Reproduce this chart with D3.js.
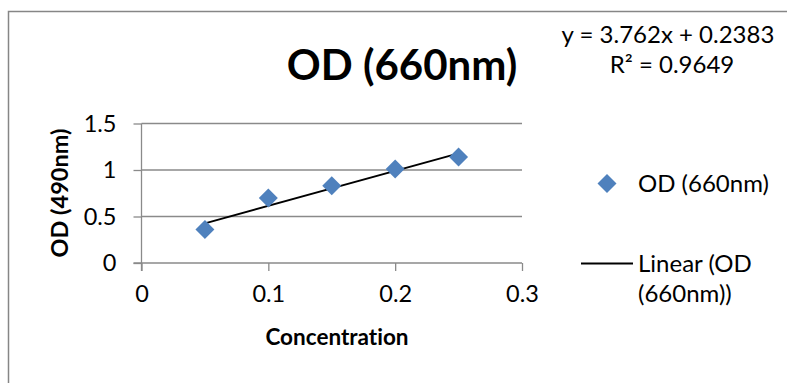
<!DOCTYPE html>
<html>
<head>
<meta charset="utf-8">
<script src="https://cdn.jsdelivr.net/npm/d3@7"></script>
<style>
  html, body { margin: 0; padding: 0; background: #fff; }
  svg { display: block; font-family: Lato, "Open Sans", sans-serif; font-variant-ligatures: none; }
</style>
</head>
<body>
<svg id="chart" width="787" height="383"></svg>
<script>
// Standard-curve readings: concentration vs. absorbance
const concentration = [0.05, 0.10, 0.15, 0.20, 0.25];
const odValues = [0.36, 0.70, 0.83, 1.01, 1.14];

// Fitted trendline (least squares) as reported on the chart
const trendSlope = 3.762;
const trendIntercept = 0.2383;
const rSquared = 0.9649;

const xTicks = [0, 0.1, 0.2, 0.3];
const yTicks = [0, 0.5, 1, 1.5];

const seriesName = "OD (660nm)";
const chartTitle = "OD (660nm)";
const xTitle = "Concentration";
const yTitle = "OD (490nm)";

const svg = d3.select("#chart");
const gridColor = "#8a8a8a";
const markerColor = "#4F81BD";

// Outer chart frame
svg.append("rect")
  .attr("x", 8.5).attr("y", 11.5)
  .attr("width", 800).attr("height", 400)
  .attr("fill", "none")
  .attr("stroke", "#868686")
  .attr("stroke-width", 1.5);

const x = d3.scaleLinear().domain([0, 0.3]).range([141.5, 522]);
const y = d3.scaleLinear().domain([0, 1.5]).range([263, 123.5]);

// Horizontal gridlines
svg.append("g")
  .selectAll("line")
  .data(yTicks.filter(t => t > 0))
  .join("line")
  .attr("x1", x(0)).attr("x2", x(0.3))
  .attr("y1", d => y(d)).attr("y2", d => y(d))
  .attr("stroke", gridColor).attr("stroke-width", 1.3);

// Y axis
const yAxis = svg.append("g")
  .attr("transform", `translate(${x(0)},0)`)
  .call(d3.axisLeft(y).tickValues(yTicks).tickSize(8).tickPadding(17)
    .tickFormat(d3.format("")));
yAxis.select(".domain").attr("stroke", gridColor).attr("stroke-width", 1.3)
  .attr("d", `M0,${y(1.5)}V${y(0) + 8}`);
yAxis.selectAll(".tick line").attr("stroke", gridColor).attr("stroke-width", 1.3);
yAxis.selectAll(".tick text")
  .attr("font-family", "Lato, sans-serif")
  .attr("font-size", 23.5).attr("fill", "#000");

// X axis
const xAxis = svg.append("g")
  .attr("transform", `translate(0,${y(0)})`)
  .call(d3.axisBottom(x).tickValues(xTicks).tickSize(8).tickPadding(14)
    .tickFormat(d3.format("")));
xAxis.select(".domain").attr("stroke", gridColor).attr("stroke-width", 1.3)
  .attr("d", `M${x(0) - 8},0H${x(0.3)}`);
xAxis.selectAll(".tick line").attr("stroke", gridColor).attr("stroke-width", 1.3);
xAxis.selectAll(".tick text")
  .attr("font-family", "Lato, sans-serif")
  .attr("font-size", 23.5).attr("fill", "#000");

// Linear trendline across the data range
const xMin = d3.min(concentration), xMax = d3.max(concentration);
const trend = x0 => trendSlope * x0 + trendIntercept;
svg.append("line")
  .attr("x1", x(xMin)).attr("y1", y(trend(xMin)))
  .attr("x2", x(xMax)).attr("y2", y(trend(xMax)))
  .attr("stroke", "#000").attr("stroke-width", 1.8);

// Diamond markers
const diamond = d3.symbol().type(d3.symbolSquare).size(180);
svg.append("g")
  .selectAll("path")
  .data(concentration.map((c, i) => [c, odValues[i]]))
  .join("path")
  .attr("d", diamond)
  .attr("transform", d => `translate(${x(d[0])},${y(d[1])}) rotate(45)`)
  .attr("fill", markerColor);

// Titles
svg.append("text")
  .attr("x", 402).attr("y", 80)
  .attr("text-anchor", "middle")
  .attr("font-family", "Lato, sans-serif")
  .attr("font-weight", "bold").attr("font-size", 42)
  .text(chartTitle);

svg.append("text")
  .attr("x", 337).attr("y", 345)
  .attr("text-anchor", "middle")
  .attr("font-weight", "bold").attr("font-size", 22.5)
  .text(xTitle);

svg.append("text")
  .attr("transform", `translate(68,193) rotate(-90)`)
  .attr("text-anchor", "middle")
  .attr("font-weight", "bold").attr("font-size", 23.5)
  .text(yTitle);

// Trendline equation and R²
const eq = svg.append("text")
  .attr("text-anchor", "middle")
  .attr("font-size", 24).attr("fill", "#000");
eq.append("tspan").attr("x", 668).attr("y", 43)
  .text(`y = ${trendSlope}x + ${trendIntercept}`);
eq.append("tspan").attr("x", 672).attr("y", 73)
  .text(`R² = ${rSquared}`);

// Legend
const legend = svg.append("g").attr("font-size", 24);
legend.append("path")
  .attr("d", diamond)
  .attr("transform", "translate(607,183.5) rotate(45)")
  .attr("fill", markerColor);
legend.append("text").attr("x", 638).attr("y", 192).text(seriesName);
legend.append("line")
  .attr("x1", 581).attr("x2", 633)
  .attr("y1", 263.5).attr("y2", 263.5)
  .attr("stroke", "#000").attr("stroke-width", 1.8);
const lt = legend.append("text");
lt.append("tspan").attr("x", 638).attr("y", 272).text("Linear (OD");
lt.append("tspan").attr("x", 638).attr("y", 302).text("(660nm))");
</script>
</body>
</html>
